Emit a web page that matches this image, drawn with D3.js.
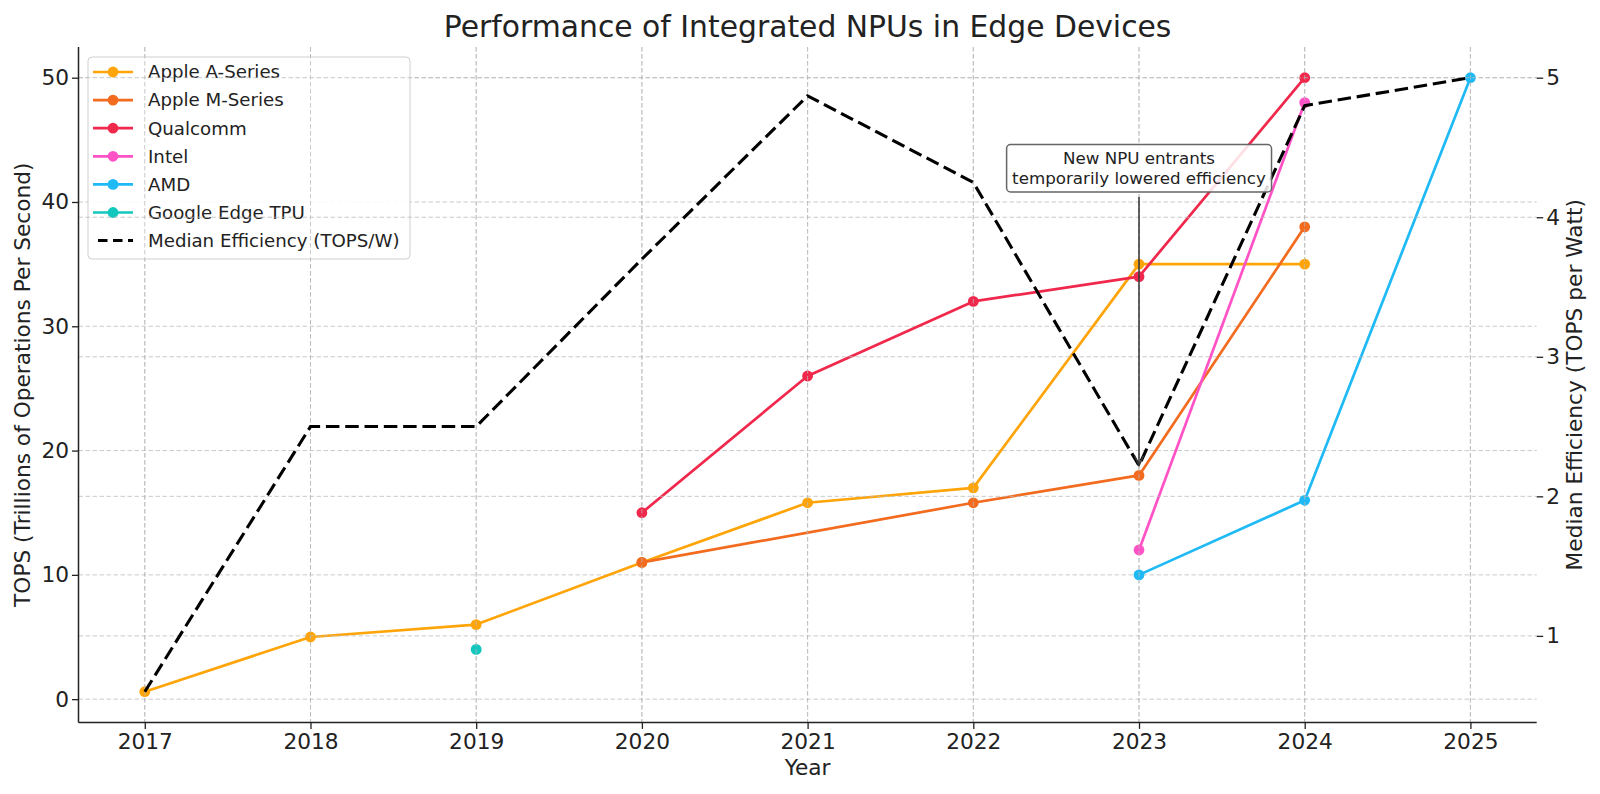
<!DOCTYPE html>
<html>
<head>
<meta charset="utf-8">
<script src="https://cdn.jsdelivr.net/npm/d3@7"></script>
<style>
  html, body { margin: 0; padding: 0; background: #fff; }
  svg { display: block; font-family: "DejaVu Sans", sans-serif; }
</style>
</head>
<body>
<svg id="chart" width="1600" height="794"></svg>
<script>
// ---------------- data ----------------
const years = [2017, 2018, 2019, 2020, 2021, 2022, 2023, 2024, 2025];
const appleA   = [0.6, 5, 6, 11, 15.8, 17, 35, 35, null];
const appleM   = [null, null, null, 11, null, 15.8, 18, 38, null];
const qualcomm = [null, null, null, 15, 26, 32, 34, 50, null];
const intel    = [null, null, null, null, null, null, 12, 48, null];
const amd      = [null, null, null, null, null, null, 10, 16, 50];
const google   = [null, null, 4, null, null, null, null, null, null];
const medianEff = [0.6, 2.5, 2.5, 3.7, 4.87, 4.25, 2.22, 4.8, 5.0];

const seriesNames = ["Apple A-Series", "Apple M-Series", "Qualcomm", "Intel", "AMD", "Google Edge TPU"];
const seriesValues = [appleA, appleM, qualcomm, intel, amd, google];
const seriesColors = ["#FFA50A", "#F26B1F", "#F0284C", "#FF52C6", "#1FBAF5", "#12C7BE"];
const medianName = "Median Efficiency (TOPS/W)";

const leftTicks = [0, 10, 20, 30, 40, 50];
const rightTicks = [1, 2, 3, 4, 5];

const titleText = "Performance of Integrated NPUs in Edge Devices";
const xLabel = "Year";
const yLeftLabel = "TOPS (Trillions of Operations Per Second)";
const yRightLabel = "Median Efficiency (TOPS per Watt)";
const annLines = ["New NPU entrants", "temporarily lowered efficiency"];
const annYear = 2023, annTextY = 4.35, annTargetY = 2.22;

// ---------------- layout ----------------
const L = 78.5, R = 1536.7, T = 47, B = 722.4;
const svg = d3.select("#chart");

const x = d3.scaleLinear().domain([2016.6, 2025.4]).range([L, R]);
const yL = d3.scaleLinear().domain([-1.87, 52.47]).range([B, T]);
const yR = d3.scaleLinear().domain([0.38, 5.22]).range([B, T]);

const gridStyle = g => g.attr("stroke", "#b8b8b8").attr("stroke-width", 1)
  .attr("stroke-dasharray", "4.5,2.5").attr("opacity", 0.75).attr("fill", "none");

// ax1 grid
const g1 = svg.append("g");
g1.selectAll("line.vx").data(years).join("line")
  .attr("x1", d => x(d)).attr("x2", d => x(d)).attr("y1", T).attr("y2", B).call(gridStyle);
g1.selectAll("line.hy").data(leftTicks).join("line")
  .attr("x1", L).attr("x2", R).attr("y1", d => yL(d)).attr("y2", d => yL(d)).call(gridStyle);

// series
const lineGen = d3.line().x(d => x(d[0])).y(d => yL(d[1]));
seriesValues.forEach((vals, i) => {
  const pts = years.map((yr, j) => [yr, vals[j]]).filter(p => p[1] !== null);
  const g = svg.append("g");
  if (pts.length > 1) {
    g.append("path").attr("d", lineGen(pts)).attr("fill", "none")
      .attr("stroke", seriesColors[i]).attr("stroke-width", 2.7)
      .attr("stroke-linejoin", "round").attr("stroke-linecap", "butt");
  }
  g.selectAll("circle").data(pts).join("circle")
    .attr("cx", d => x(d[0])).attr("cy", d => yL(d[1])).attr("r", 5.4)
    .attr("fill", seriesColors[i]);
});

// legend
const legX = 88, legY = 57, legW = 322, legH = 202, rowH = 28.1;
const leg = svg.append("g");
leg.append("rect").attr("x", legX).attr("y", legY).attr("width", legW).attr("height", legH)
  .attr("rx", 4).attr("fill", "#fff").attr("fill-opacity", 0.88)
  .attr("stroke", "#cfcfcf").attr("stroke-width", 1);
const legItems = seriesNames.map((n, i) => ({ name: n, color: seriesColors[i], dash: false }))
  .concat([{ name: medianName, color: "#000", dash: true }]);
legItems.forEach((it, i) => {
  const cy = 72 + i * rowH;
  if (it.dash) {
    leg.append("line").attr("x1", 93).attr("x2", 133).attr("y1", cy).attr("y2", cy)
      .attr("stroke", "#000").attr("stroke-width", 3).attr("stroke-dasharray", "9.5,5.5")
      .attr("stroke-dashoffset", -5);
  } else {
    leg.append("line").attr("x1", 93).attr("x2", 133).attr("y1", cy).attr("y2", cy)
      .attr("stroke", it.color).attr("stroke-width", 2.7);
    leg.append("circle").attr("cx", 113).attr("cy", cy).attr("r", 5.4).attr("fill", it.color);
  }
  leg.append("text").attr("x", 148).attr("y", cy).attr("dy", "0.35em")
    .attr("font-size", 18.2).attr("fill", "#222").text(it.name);
});

// ax2 grid
const g2 = svg.append("g");
g2.selectAll("line.vx").data(years).join("line")
  .attr("x1", d => x(d)).attr("x2", d => x(d)).attr("y1", T).attr("y2", B).call(gridStyle);
g2.selectAll("line.hy").data(rightTicks).join("line")
  .attr("x1", L).attr("x2", R).attr("y1", d => yR(d)).attr("y2", d => yR(d)).call(gridStyle);

// median efficiency
const medLine = d3.line().x((d, i) => x(years[i])).y(d => yR(d));
svg.append("path").attr("d", medLine(medianEff)).attr("fill", "none")
  .attr("stroke", "#000").attr("stroke-width", 3.1).attr("stroke-dasharray", "13.5,5.8")
  .attr("stroke-linejoin", "miter");

// axes
const fontTick = 21.7;
const axB = svg.append("g").attr("transform", `translate(0,${B})`)
  .call(d3.axisBottom(x).tickValues(years).tickFormat(d3.format("d")).tickSize(6.5).tickPadding(5));
const axLft = svg.append("g").attr("transform", `translate(${L},0)`)
  .call(d3.axisLeft(yL).tickValues(leftTicks).tickFormat(d3.format("d")).tickSize(6.5).tickPadding(3));
const axRt = svg.append("g").attr("transform", `translate(${R},0)`)
  .call(d3.axisRight(yR).tickValues(rightTicks).tickFormat(d3.format("d")).tickSize(6.5).tickPadding(3));
[axB, axLft, axRt].forEach(a => {
  a.selectAll("text").attr("font-size", fontTick).attr("fill", "#222")
    .attr("font-family", "DejaVu Sans");
  a.selectAll(".tick line").attr("stroke", "#222").attr("stroke-width", 1.3);
  a.select(".domain").attr("stroke", "#222").attr("stroke-width", 1.5);
});
axRt.select(".domain").remove();
axB.select(".domain").attr("d", `M${L},0H${R}`);
axLft.select(".domain").attr("d", `M0,${T}V${B}`);

// axis labels & title
svg.append("text").attr("x", (L + R) / 2).attr("y", 26.5).attr("dy", "0.35em")
  .attr("text-anchor", "middle").attr("font-size", 29.8).attr("fill", "#222").text(titleText);
svg.append("text").attr("x", (L + R) / 2).attr("y", 767).attr("dy", "0.35em")
  .attr("text-anchor", "middle").attr("font-size", 21.7).attr("fill", "#222").text(xLabel);
svg.append("text").attr("transform", `translate(22.5,${(T + B) / 2}) rotate(-90)`)
  .attr("dy", "0.35em").attr("text-anchor", "middle").attr("font-size", 21.7)
  .attr("fill", "#222").text(yLeftLabel);
svg.append("text").attr("transform", `translate(1574,${(T + B) / 2}) rotate(-90)`)
  .attr("dy", "0.35em").attr("text-anchor", "middle").attr("font-size", 21.7)
  .attr("fill", "#222").text(yRightLabel);

// annotation
const ann = svg.append("g");
const ax0 = x(annYear), ay0 = yR(annTextY);
const lineH = 19.5;
const annText = ann.append("text").attr("text-anchor", "middle")
  .attr("font-size", 16.7).attr("fill", "#222");
annLines.forEach((t, i) => {
  annText.append("tspan").attr("x", ax0).attr("y", ay0 + (i - (annLines.length - 1) / 2) * lineH)
    .attr("dy", "0.35em").text(t);
});
const bb = annText.node().getBBox();
const padX = 5.5, padY = 4;
const boxBottom = bb.y + bb.height + padY;
ann.insert("rect", "text").attr("x", bb.x - padX).attr("y", bb.y - padY)
  .attr("width", bb.width + 2 * padX).attr("height", bb.height + 2 * padY)
  .attr("rx", 4).attr("fill", "#fff").attr("fill-opacity", 0.85)
  .attr("stroke", "#666").attr("stroke-width", 1.5);
const tipY = yR(annTargetY);
const startY = boxBottom + 5;
ann.append("line").attr("x1", ax0).attr("x2", ax0).attr("y1", startY).attr("y2", tipY)
  .attr("stroke", "#333").attr("stroke-width", 1.5);
ann.append("path")
  .attr("d", `M${ax0 - 4.5},${tipY - 10}L${ax0},${tipY}L${ax0 + 4.5},${tipY - 10}`)
  .attr("fill", "none").attr("stroke", "#333").attr("stroke-width", 1.5);
</script>
</body>
</html>
